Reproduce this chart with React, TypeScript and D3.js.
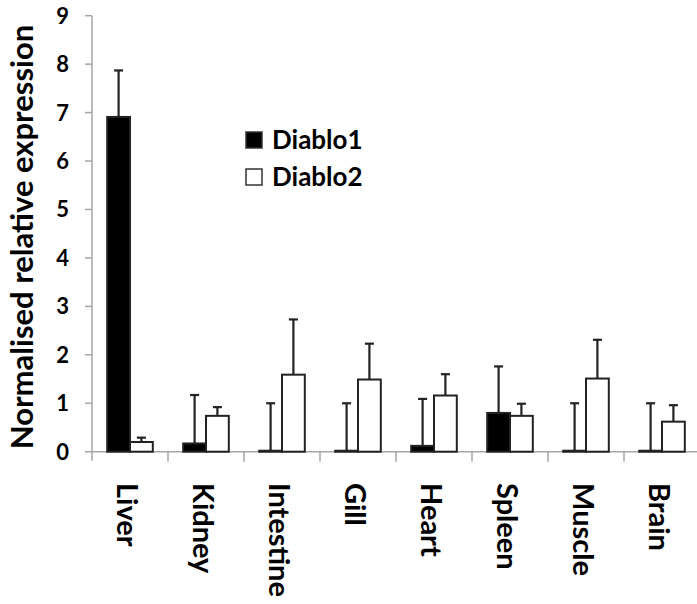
import React, { useEffect } from 'react';
import * as d3 from 'd3';

// tissues on the x axis
const categories = ['Liver', 'Kidney', 'Intestine', 'Gill', 'Heart', 'Spleen', 'Muscle', 'Brain'];
// mean expression
const diablo1 = [6.91, 0.17, 0.02, 0.02, 0.12, 0.8, 0.02, 0.02];
const diablo2 = [0.2, 0.74, 1.59, 1.49, 1.16, 0.74, 1.51, 0.62];
// upper error (SD)
const diablo1Err = [0.96, 1.0, 0.98, 0.98, 0.97, 0.96, 0.98, 0.98];
const diablo2Err = [0.09, 0.18, 1.14, 0.74, 0.44, 0.25, 0.8, 0.34];
const yTicks = [0, 1, 2, 3, 4, 5, 6, 7, 8, 9];
const seriesNames = ['Diablo1', 'Diablo2'];
const seriesFill = ['#000000', '#ffffff'];

const W = 697;
const H = 604;
const FONT = 'Lato, "Open Sans", sans-serif';

const App: React.FC = () => {
  useEffect(() => {
    document.body.style.margin = '0';
  }, []);

  const margin = { top: 15.7, left: 92, right: -3, bottom: 152.3 };
  const x = d3.scaleBand<string>().domain(categories).range([margin.left, W - margin.right]).paddingInner(0.4).paddingOuter(0.2);
  const x1 = d3.scaleBand<number>().domain([0, 1]).range([0, x.bandwidth()]);
  const y = d3.scaleLinear().domain([0, 9]).range([H - margin.bottom, margin.top]);
  const step = x.step();
  const y0 = y(0);

  const series = [
    { vals: diablo1, errs: diablo1Err },
    { vals: diablo2, errs: diablo2Err },
  ];

  return (
    <svg width={W} height={H} style={{ display: 'block', background: '#fff' }}>
      {/* y axis */}
      <line x1={margin.left} x2={margin.left} y1={y(9)} y2={y0 + 9} stroke="#a6a6a6" strokeWidth={1.5} />
      {yTicks.map(t => (
        <g key={t}>
          <line x1={margin.left - 7} x2={margin.left} y1={y(t)} y2={y(t)} stroke="#a6a6a6" strokeWidth={1.5} />
          <text x={69} y={y(t)} dy="0.36em" textAnchor="end" fontFamily={FONT} fontWeight="bold" fontSize={22} fill="#000">{t}</text>
        </g>
      ))}
      {/* x axis */}
      <line x1={margin.left} x2={W} y1={y0} y2={y0} stroke="#a6a6a6" strokeWidth={1.5} />
      {categories.map((c, i) => (
        <line key={c} x1={margin.left + step * (i + 1)} x2={margin.left + step * (i + 1)} y1={y0} y2={y0 + 10} stroke="#a6a6a6" strokeWidth={1.5} />
      ))}
      {/* bars */}
      {series.map((s, si) => (
        <g key={si}>
          {categories.map((c, i) => {
            const bx = (x(c) || 0) + (x1(si) || 0);
            const bw = x1.bandwidth();
            const top = y(s.vals[i]);
            const et = y(s.vals[i] + s.errs[i]);
            const cx = bx + bw / 2;
            return (
              <g key={c}>
                <line x1={cx} x2={cx} y1={top} y2={et} stroke="#222" strokeWidth={2.2} />
                <line x1={cx - 4.5} x2={cx + 4.5} y1={et} y2={et} stroke="#222" strokeWidth={2.2} />
                <rect x={bx} y={top} width={bw} height={y0 - top} fill={seriesFill[si]} stroke="#222" strokeWidth={2} />
              </g>
            );
          })}
        </g>
      ))}
      {/* x labels */}
      {categories.map(c => {
        const cx = (x(c) || 0) + x.bandwidth() / 2 - 3;
        return (
          <text key={c} transform={`translate(${cx},483) rotate(90)`} dy="0.35em" fontFamily={FONT} fontWeight="bold" fontSize={29} fill="#000">{c}</text>
        );
      })}
      {/* y title */}
      <text transform={`translate(33,${(22 + 452) / 2}) rotate(-90)`} textAnchor="middle" fontFamily={FONT} fontWeight="bold" fontSize={31} fill="#000">Normalised relative expression</text>
      {/* legend */}
      {seriesNames.map((n, i) => (
        <g key={n} transform={`translate(246,${140 + i * 37})`}>
          <rect x={0} y={-8} width={16} height={16} fill={seriesFill[i]} stroke="#333" strokeWidth={1.5} />
          <text x={26} y={0} dy="0.36em" fontFamily={FONT} fontWeight="bold" fontSize={26} fill="#000">{n}</text>
        </g>
      ))}
    </svg>
  );
};

export default App;
